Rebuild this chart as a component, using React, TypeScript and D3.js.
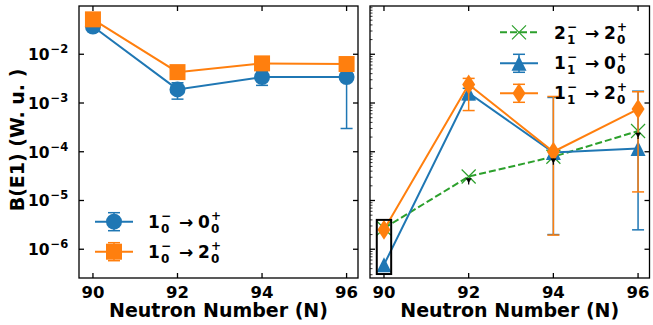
import React from "react";
import * as d3 from "d3";

// ---- data ----
const N = [90, 92, 94, 96];
const xTicks = [90, 92, 94, 96];
const yTickExp = [-2, -3, -4, -5, -6];

// left panel
const b10to00 = [0.037, 0.0019, 0.0034, 0.0034];
const b10to00Lo = [0.037, 0.0012, 0.0023, 0.0003];
const b10to00Hi = [0.037, 0.0026, 0.0045, 0.0065];
const b10to20 = [0.052, 0.0043, 0.0065, 0.0063];

// right panel
const b21to20 = [2.7e-6, 3.1e-5, 7.9e-5, 2.66e-4];
const b11to00 = [4.8e-7, 1.6e-3, 9.7e-5, 1.17e-4];
const b11to00Lo = [4.8e-7, 1.17e-3, 2.0e-6, 2.5e-6];
const b11to00Hi = [4.8e-7, 2.0e-3, 1.3e-3, 1.75e-3];
const b11to20 = [2.5e-6, 2.4e-3, 1.0e-4, 7.5e-4];
const b11to20Lo = [2.5e-6, 7.0e-4, 1.95e-6, 1.5e-5];
const b11to20Hi = [2.5e-6, 3.2e-3, 1.36e-3, 1.7e-3];
const limitN = [92, 94, 96];
const limitB = [3.1e-5, 7.9e-5, 2.66e-4];
const boxN = [89.83, 90.17];
const boxB = [4.0e-6, 3.1e-7];

const BLUE = "#1f77b4";
const ORANGE = "#ff7f0e";
const GREEN = "#2ca02c";
const FONT = "DejaVu Sans, sans-serif";

const W = 653, H = 325;
const top = 6, bottom = 278;
const xDomain: [number, number] = [89.67, 96.27];
const y = d3.scaleLog().domain([Math.pow(10, -1.01), Math.pow(10, -6.59)]).range([top, bottom]);
const xL = d3.scaleLinear().domain(xDomain).range([79, 358]);
const xR = d3.scaleLinear().domain(xDomain).range([370, 649.5]);

function marker(kind: string, cx: number, cy: number, color: string, key?: string) {
  if (kind === "circle") return <circle key={key} cx={cx} cy={cy} r={8} fill={color} />;
  if (kind === "square") return <rect key={key} x={cx - 8} y={cy - 8} width={16} height={16} fill={color} />;
  if (kind === "tri") return <path key={key} d={`M${cx},${cy - 7.5}L${cx + 7.5},${cy + 7.5}L${cx - 7.5},${cy + 7.5}Z`} fill={color} />;
  if (kind === "diamond") return <path key={key} d={`M${cx},${cy - 10}L${cx + 6.5},${cy}L${cx},${cy + 10}L${cx - 6.5},${cy}Z`} fill={color} />;
  if (kind === "x") return <path key={key} d={`M${cx - 7},${cy - 7}L${cx + 7},${cy + 7}M${cx - 7},${cy + 7}L${cx + 7},${cy - 7}`} stroke={color} strokeWidth={1.2} fill="none" />;
  return null;
}

function Series({ x, vals, lo, hi, color, kind, dashed }: any) {
  const line = d3.line<number>().x((_, i) => x(N[i])).y((v) => y(v));
  return (
    <g>
      {lo && vals.map((v: number, i: number) => {
        if (lo[i] === hi[i]) return null;
        const cx = x(N[i]);
        return (
          <g key={"e" + i} stroke={color} strokeWidth={1.5}>
            <line x1={cx} x2={cx} y1={y(lo[i])} y2={y(hi[i])} />
            <line x1={cx - 6} x2={cx + 6} y1={y(lo[i])} y2={y(lo[i])} />
            <line x1={cx - 6} x2={cx + 6} y1={y(hi[i])} y2={y(hi[i])} />
          </g>
        );
      })}
      <path d={line(vals) || ""} fill="none" stroke={color} strokeWidth={2} strokeDasharray={dashed ? "7,3" : undefined} />
      {vals.map((v: number, i: number) => marker(kind, x(N[i]), y(v), color, "m" + i))}
    </g>
  );
}

function Frame({ x, minor }: any) {
  const x0 = x.range()[0], x1 = x.range()[1];
  const minors: number[] = [];
  if (minor) {
    for (let e = -7; e <= -1; e++) for (let k = 2; k <= 9; k++) {
      const v = k * Math.pow(10, e);
      if (y(v) > top && y(v) < bottom) minors.push(v);
    }
  }
  return (
    <g stroke="black" strokeWidth={1.3}>
      <rect x={x0} y={top} width={x1 - x0} height={bottom - top} fill="none" />
      {xTicks.map((t) => (
        <g key={t}>
          <line x1={x(t)} x2={x(t)} y1={bottom} y2={bottom - 5} />
          <line x1={x(t)} x2={x(t)} y1={top} y2={top + 5} />
        </g>
      ))}
      {yTickExp.map((e) => {
        const yy = y(Math.pow(10, e));
        return (
          <g key={e}>
            <line x1={x0} x2={x0 + 5} y1={yy} y2={yy} />
            <line x1={x1} x2={x1 - 5} y1={yy} y2={yy} />
          </g>
        );
      })}
      {minors.map((v, i) => (
        <line key={i} x1={x0} x2={x0 + 2.5} y1={y(v)} y2={y(v)} strokeWidth={0.8} />
      ))}
    </g>
  );
}

function XLabels({ x }: any) {
  const mid = (x.range()[0] + x.range()[1]) / 2;
  return (
    <g fontFamily={FONT} fontWeight="bold" fill="black">
      {xTicks.map((t) => (
        <text key={t} x={x(t)} y={298} fontSize={16.5} textAnchor="middle">{t}</text>
      ))}
      <text x={mid} y={317} fontSize={19} textAnchor="middle">Neutron Number (N)</text>
    </g>
  );
}

// transition label like 1_0^- -> 0_0^+
function Trans({ x, yb, a, as, b, bs, ap, bp }: any) {
  return (
    <g fontFamily={FONT} fontWeight="bold" fill="black">
      <text x={x} y={yb} fontSize={17}>{a}</text>
      <text x={x + 13} y={yb - 8} fontSize={12}>{ap}</text>
      <text x={x + 13} y={yb + 5} fontSize={12}>{as}</text>
      <text x={x + 31} y={yb} fontSize={17}>→</text>
      <text x={x + 50} y={yb} fontSize={17}>{b}</text>
      <text x={x + 63} y={yb - 8} fontSize={12}>{bp}</text>
      <text x={x + 63} y={yb + 5} fontSize={12}>{bs}</text>
    </g>
  );
}

function LegendHandle({ cx, cy, color, kind, err, dashed }: any) {
  return (
    <g>
      {err && (
        <g stroke={color} strokeWidth={1.5}>
          <line x1={cx} x2={cx} y1={cy - 9} y2={cy + 9} />
          <line x1={cx - 6} x2={cx + 6} y1={cy - 9} y2={cy - 9} />
          <line x1={cx - 6} x2={cx + 6} y1={cy + 9} y2={cy + 9} />
        </g>
      )}
      <line x1={cx - 19} x2={cx + 19} y1={cy} y2={cy} stroke={color} strokeWidth={2} strokeDasharray={dashed ? "7,3" : undefined} />
      {marker(kind, cx, cy, color)}
    </g>
  );
}

export default function App() {
  return (
    <svg width={W} height={H} style={{ position: "absolute", left: 0, top: 0, background: "white" }}>
      {/* y axis label */}
      <text transform={`translate(23.5,140) rotate(-90)`} fontFamily={FONT} fontWeight="bold" fontSize={19} textAnchor="middle">B(E1) (W. u. )</text>
      {yTickExp.map((e) => {
        const yy = y(Math.pow(10, e));
        return (
          <g key={e} fontFamily={FONT} fontWeight="bold">
            <text x={49.5} y={yy + 6} fontSize={15.5} textAnchor="end">10</text>
            <text x={50.5} y={yy - 1} fontSize={11.5}>{"−" + String(-e)}</text>
          </g>
        );
      })}

      {/* left panel */}
      <Series x={xL} vals={b10to00} lo={b10to00Lo} hi={b10to00Hi} color={BLUE} kind="circle" />
      <Series x={xL} vals={b10to20} color={ORANGE} kind="square" />
      <Frame x={xL} minor={false} />
      <XLabels x={xL} />
      <LegendHandle cx={114} cy={221.7} color={BLUE} kind="circle" err />
      <LegendHandle cx={114} cy={251.7} color={ORANGE} kind="square" err />
      <Trans x={148} yb={227.7} a="1" as="0" ap="−" b="0" bs="0" bp="+" />
      <Trans x={148} yb={257.7} a="1" as="0" ap="−" b="2" bs="0" bp="+" />

      {/* right panel */}
      <Series x={xR} vals={b21to20} color={GREEN} kind="x" dashed />
      <Series x={xR} vals={b11to00} lo={b11to00Lo} hi={b11to00Hi} color={BLUE} kind="tri" />
      <Series x={xR} vals={b11to20} lo={b11to20Lo} hi={b11to20Hi} color={ORANGE} kind="diamond" />
      {limitN.map((n, i) => {
        const cx = xR(n), cy = y(limitB[i]);
        return (
          <g key={n} fill="black" stroke="black">
            <path d={`M${cx - 2.5},${cy + 2}L${cx + 2.5},${cy + 2}L${cx},${cy + 6}Z`} strokeWidth={0.6} />
            <line x1={cx} x2={cx} y1={cy + 2} y2={cy + 8} strokeWidth={1.2} />
          </g>
        );
      })}
      <rect x={xR(boxN[0])} y={y(boxB[0])} width={xR(boxN[1]) - xR(boxN[0])} height={y(boxB[1]) - y(boxB[0])} fill="none" stroke="black" strokeWidth={2} />
      <Frame x={xR} minor={true} />
      <XLabels x={xR} />
      <LegendHandle cx={519} cy={32.3} color={GREEN} kind="x" dashed />
      <LegendHandle cx={519} cy={63.3} color={BLUE} kind="tri" err />
      <LegendHandle cx={519} cy={93.3} color={ORANGE} kind="diamond" err />
      <Trans x={554} yb={39.3} a="2" as="1" ap="−" b="2" bs="0" bp="+" />
      <Trans x={554} yb={69} a="1" as="1" ap="−" b="0" bs="0" bp="+" />
      <Trans x={554} yb={99} a="1" as="1" ap="−" b="2" bs="0" bp="+" />
    </svg>
  );
}
